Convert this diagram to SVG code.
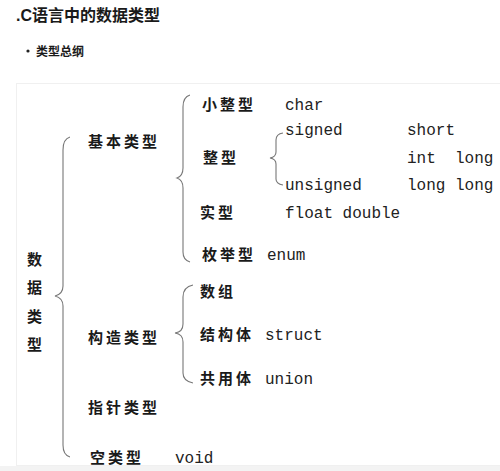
<svg xmlns="http://www.w3.org/2000/svg" width="500" height="471" viewBox="0 0 500 471">
<style>
.t{font-family:"Liberation Sans","Noto Sans CJK SC",sans-serif;font-weight:bold;fill:#1a1a1a}
.c{font-family:"Noto Sans CJK SC",sans-serif;font-size:15px;font-weight:bold;fill:#1a1a1a;letter-spacing:3px}
.m{font-family:"Liberation Mono",monospace;font-size:16px;fill:#222}
.b{fill:none;stroke:#777;stroke-width:1.1}
</style>
<rect width="500" height="471" fill="#fff"/>
<rect x="16.5" y="83.5" width="490" height="382" fill="none" stroke="#f0f0f0"/>
<rect x="0" y="466" width="500" height="5" fill="#f3f3f3"/>
<text class="t" x="16" y="21" font-size="16">.C语言中的数据类型</text>
<circle cx="28" cy="51" r="1.6" fill="#222"/>
<text class="t" x="36" y="56" font-size="12">类型总纲</text>
<g id="connectors">
<path class="b" d="M70,137 Q63,139 63,150 L63,286 Q63,294 55,296 Q63,298 63,306 L63,445 Q63,455 70,457"/>
<path class="b" d="M190,95 Q183,97 183,107 L183,168 Q183,176 177,178 Q183,180 183,188 L183,252 Q183,260 190,262"/>
<path class="b" d="M283,133 Q276,134 276,140 L276,152 Q276,157 270,158 Q276,159 276,164 L276,179 Q276,184 283,185"/>
<path class="b" d="M193,285 Q183,287 183,297 L183,324 Q183,332 175,333 Q183,334 183,342 L183,373 Q183,381 193,383"/>
</g>
<g id="root"><text class="c" x="27" y="265">数</text><text class="c" x="27" y="293">据</text><text class="c" x="27" y="322">类</text><text class="c" x="27" y="350">型</text></g>
<g id="basic"><text class="c" x="88" y="147">基本类型</text></g>
<g id="small-int"><text class="c" x="202" y="110">小整型</text><text class="m" x="285" y="110">char</text></g>
<g id="int"><text class="c" x="203" y="163">整型</text>
<text class="m" x="285" y="135">signed</text><text class="m" x="285" y="190">unsigned</text>
<text class="m" x="407" y="135">short</text><text class="m" x="407" y="163" xml:space="preserve">int  long</text><text class="m" x="407" y="190">long long</text></g>
<g id="real"><text class="c" x="200" y="218">实型</text><text class="m" x="285" y="218">float double</text></g>
<g id="enum"><text class="c" x="202" y="260">枚举型</text><text class="m" x="267" y="260">enum</text></g>
<g id="construct"><text class="c" x="88" y="343">构造类型</text></g>
<g id="array"><text class="c" x="200" y="297">数组</text></g>
<g id="struct"><text class="c" x="200" y="340">结构体</text><text class="m" x="265" y="340">struct</text></g>
<g id="union"><text class="c" x="200" y="384">共用体</text><text class="m" x="265" y="384">union</text></g>
<g id="pointer"><text class="c" x="88" y="413">指针类型</text></g>
<g id="void"><text class="c" x="90" y="463">空类型</text><text class="m" x="175" y="463">void</text></g>
</svg>
